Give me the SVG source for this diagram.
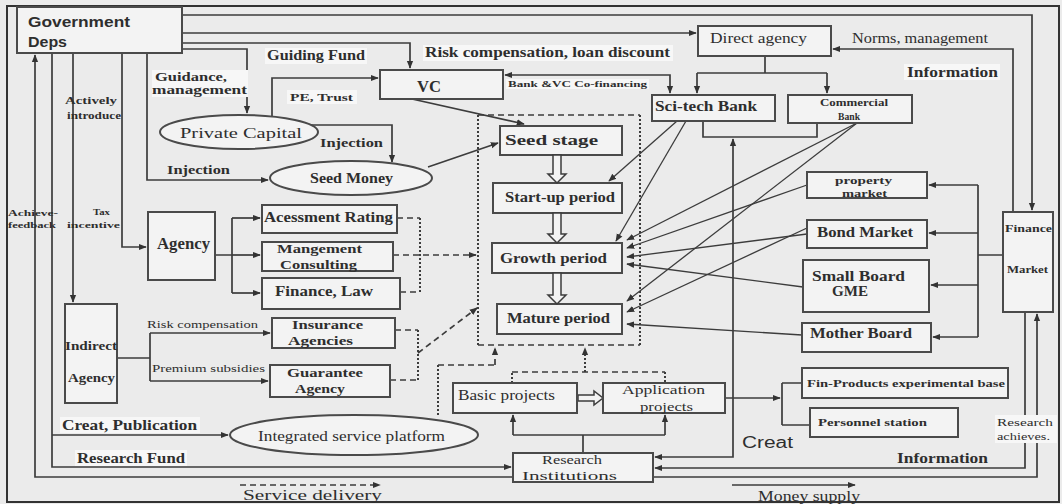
<svg xmlns="http://www.w3.org/2000/svg" width="1062" height="504" viewBox="0 0 1062 504">
<style>
  .bg{fill:#ebebeb}
  .box{fill:#f3f3f3;stroke:#4a4a4a;stroke-width:2}
  .hl{fill:#f7f7f7;stroke:none}
  .ln{fill:none;stroke:#3c3c3c;stroke-width:1.7}
  .thin{fill:none;stroke:#3c3c3c;stroke-width:1.3}
  .dash{fill:none;stroke:#3c3c3c;stroke-width:1.7;stroke-dasharray:6 4}
  .dot{fill:none;stroke:#3c3c3c;stroke-width:2;stroke-dasharray:2 2}
  .hollow{fill:#f3f3f3;stroke:#3c3c3c;stroke-width:1.5}
  text{fill:#2e2e2e}
  .b{font-family:"Liberation Serif",serif;font-weight:bold}
  .r{font-family:"Liberation Serif",serif}
  .s{font-family:"Liberation Sans",Arial,sans-serif}
  .sb{font-family:"Liberation Sans",Arial,sans-serif;font-weight:bold}
</style>
<defs>
  <marker id="ah" viewBox="0 0 10 10" refX="9" refY="5" markerUnits="userSpaceOnUse" markerWidth="8" markerHeight="8" orient="auto-start-reverse">
    <path d="M0,1 L10,5 L0,9 z" fill="#333"/>
  </marker>
</defs>

<!-- page -->
<rect class="bg" x="0" y="0" width="1062" height="504"/>
<rect x="7" y="6" width="1052" height="496" fill="none" stroke="#333" stroke-width="2"/>

<!-- connectors -->
<g id="connectors">
  <!-- from Government Deps -->
  <path class="ln" d="M182,15 H1032 V210" marker-end="url(#ah)"/>
  <path class="ln" d="M182,33 H696" marker-end="url(#ah)"/>
  <path class="ln" d="M182,43 H410 V68" marker-end="url(#ah)"/>
  <path class="ln" d="M182,49 H247 V113" marker-end="url(#ah)"/>
  <path class="ln" d="M147,53 V180 H268" marker-end="url(#ah)"/>
  <path class="ln" d="M122,53 V247 H146" marker-end="url(#ah)"/>
  <path class="ln" d="M73,53 V302" marker-end="url(#ah)"/>
  <path class="ln" d="M52,53 V467 H511" marker-end="url(#ah)"/>
  <path class="ln" d="M52,435 H228" marker-end="url(#ah)"/>
  <path class="ln" d="M513,477 H35 V55" marker-end="url(#ah)"/>

  <!-- private capital, VC, seed money -->
  <path class="ln" d="M272,117 V78 H378" marker-end="url(#ah)"/>
  <path class="ln" d="M311,125 H392 V162" marker-end="url(#ah)"/>
  <path class="ln" d="M412,99 L524,124" marker-end="url(#ah)"/>
  <path class="ln" d="M428,167 L498,143" marker-end="url(#ah)"/>
  <path class="ln" d="M670,93 V75 H505" marker-start="url(#ah)" marker-end="url(#ah)"/>

  <!-- direct agency and banks -->
  <path class="ln" d="M765,56 V73 M697,73 H827"/>
  <path class="ln" d="M697,73 V93" marker-end="url(#ah)"/>
  <path class="ln" d="M827,73 V93" marker-end="url(#ah)"/>
  <path class="ln" d="M703,121 V137 H817 V123"/>
  <path class="ln" d="M1013,212 V49 H833" marker-end="url(#ah)"/>

  <!-- banks and markets to stages -->
  <path class="thin" d="M677,121 L609,181" marker-end="url(#ah)"/>
  <path class="thin" d="M686,121 L616,241" marker-end="url(#ah)"/>
  <path class="thin" d="M857,123 L627,240" marker-end="url(#ah)"/>
  <path class="thin" d="M857,123 L627,301" marker-end="url(#ah)"/>
  <path class="thin" d="M807,185 L627,248" marker-end="url(#ah)"/>
  <path class="thin" d="M807,234 L627,257" marker-end="url(#ah)"/>
  <path class="thin" d="M807,228 L627,312" marker-end="url(#ah)"/>
  <path class="thin" d="M803,287 L627,264" marker-end="url(#ah)"/>
  <path class="thin" d="M802,335 L627,324" marker-end="url(#ah)"/>

  <!-- finance market to markets -->
  <path class="ln" d="M1003,255 H978 M978,185 V337"/>
  <path class="ln" d="M978,185 H929" marker-end="url(#ah)"/>
  <path class="ln" d="M978,233 H929" marker-end="url(#ah)"/>
  <path class="ln" d="M978,285 H931" marker-end="url(#ah)"/>
  <path class="ln" d="M978,337 H933" marker-end="url(#ah)"/>

  <!-- finance market and research institutions -->
  <path class="ln" d="M653,477 H1037 V314" marker-end="url(#ah)"/>
  <path class="ln" d="M1025,312 V468 H655" marker-end="url(#ah)"/>
  <path class="ln" d="M733,139 V457 H655" marker-start="url(#ah)" marker-end="url(#ah)"/>

  <!-- agency branches -->
  <path class="ln" d="M215,255 H232 M232,218 V293"/>
  <path class="ln" d="M232,218 H260" marker-end="url(#ah)"/>
  <path class="ln" d="M232,255 H260" marker-end="url(#ah)"/>
  <path class="ln" d="M232,293 H260" marker-end="url(#ah)"/>
  <path class="dash" d="M397,218 H420 M400,292 H420 M393,255 H475"/>
  <path class="dot" d="M420,218 V292"/>
  <path class="dash" d="M470,255 H476" marker-end="url(#ah)"/>

  <!-- indirect agency branches -->
  <path class="ln" d="M117,358 H150 M150,333 V381"/>
  <path class="ln" d="M150,333 H270" marker-end="url(#ah)"/>
  <path class="ln" d="M150,381 H268" marker-end="url(#ah)"/>
  <path class="dash" d="M395,330 H418 M390,380 H418"/>
  <path class="dot" d="M418,330 V380"/>
  <path class="dash" d="M418,353 L477,308" marker-end="url(#ah)"/>

  <!-- service platform and projects to stage frame -->
  <path class="dot" d="M438,415 V365"/>
  <path class="dash" d="M438,365 H495"/>
  <path class="dash" d="M495,365 V348" marker-end="url(#ah)"/>
  <path class="dot" d="M512,383 V372 M665,372 V383"/>
  <path class="dash" d="M512,372 H665"/>
  <path class="dot" d="M585,372 V348" marker-end="url(#ah)"/>

  <!-- research institutions to projects -->
  <path class="ln" d="M583,453 V435 M513,435 H665"/>
  <path class="ln" d="M513,435 V415" marker-end="url(#ah)"/>
  <path class="ln" d="M665,435 V415" marker-end="url(#ah)"/>
  <path class="hollow" d="M578,395 H594 V391 L603,398 L594,405 V401 H578 Z"/>

  <!-- application projects to bases -->
  <path class="ln" d="M725,398 H780" marker-end="url(#ah)"/>
  <path class="ln" d="M782,383 V425 M782,383 H802 M782,425 H810"/>

  <!-- legend -->
  <path class="dash" d="M240,485 H380" marker-end="url(#ah)"/>
  <path class="ln" d="M732,485 H855" marker-end="url(#ah)"/>
</g>

<!-- development stage frame -->
<g id="stage-frame">
  <path class="dash" d="M478,115 H640 M478,345 H640"/>
  <path class="dot" d="M478,115 V345 M640,115 V345"/>
</g>

<!-- labels on connectors -->
<g id="labels">
  <rect class="hl" x="152" y="70" width="96" height="27"/>
  <text class="b" x="155" y="81" font-size="13" textLength="72" lengthAdjust="spacingAndGlyphs">Guidance,</text>
  <text class="b" x="152" y="94" font-size="13" textLength="95" lengthAdjust="spacingAndGlyphs">management</text>
  <text class="b" x="65" y="104" font-size="10" textLength="52" lengthAdjust="spacingAndGlyphs">Actively</text>
  <text class="b" x="67" y="119" font-size="10" textLength="54" lengthAdjust="spacingAndGlyphs">introduce</text>
  <rect class="hl" x="265" y="48" width="102" height="16"/>
  <text class="b" x="267" y="60" font-size="14" textLength="98" lengthAdjust="spacingAndGlyphs">Guiding Fund</text>
  <rect class="hl" x="423" y="45" width="250" height="16"/>
  <text class="b" x="425" y="57" font-size="15" textLength="245" lengthAdjust="spacingAndGlyphs">Risk compensation, loan discount</text>
  <rect class="hl" x="287" y="90" width="70" height="14"/>
  <text class="b" x="290" y="101" font-size="11" textLength="63" lengthAdjust="spacingAndGlyphs">PE, Trust</text>
  <rect class="hl" x="506" y="79" width="143" height="10"/>
  <text class="b" x="508" y="87" font-size="9" textLength="139" lengthAdjust="spacingAndGlyphs">Bank &amp;VC Co-financing</text>
  <text class="b" x="320" y="147" font-size="13" textLength="63" lengthAdjust="spacingAndGlyphs">Injection</text>
  <text class="b" x="167" y="174" font-size="13" textLength="63" lengthAdjust="spacingAndGlyphs">Injection</text>
  <text class="r" x="852" y="43" font-size="14" textLength="136" lengthAdjust="spacingAndGlyphs">Norms, management</text>
  <rect class="hl" x="904" y="64" width="96" height="16"/>
  <text class="b" x="907" y="77" font-size="14" textLength="91" lengthAdjust="spacingAndGlyphs">Information</text>
  <text class="b" x="93" y="215" font-size="9" textLength="17" lengthAdjust="spacingAndGlyphs" fill="#5a3a2a">Tax</text>
  <text class="b" x="67" y="228" font-size="9" textLength="53" lengthAdjust="spacingAndGlyphs">incentive</text>
  <text class="b" x="8" y="216" font-size="9" textLength="50" lengthAdjust="spacingAndGlyphs">Achieve-</text>
  <text class="b" x="8" y="228" font-size="9" textLength="48" lengthAdjust="spacingAndGlyphs">feedback</text>
  <text class="r" x="147" y="328" font-size="10" textLength="111" lengthAdjust="spacingAndGlyphs">Risk compensation</text>
  <text class="r" x="152" y="372" font-size="10" textLength="113" lengthAdjust="spacingAndGlyphs">Premium subsidies</text>
  <rect class="hl" x="60" y="417" width="140" height="16"/>
  <text class="b" x="62" y="430" font-size="15" textLength="135" lengthAdjust="spacingAndGlyphs">Creat, Publication</text>
  <rect class="hl" x="75" y="450" width="112" height="16"/>
  <text class="b" x="77" y="463" font-size="15" textLength="108" lengthAdjust="spacingAndGlyphs">Research Fund</text>
  <text class="s" x="742" y="448" font-size="16" textLength="51" lengthAdjust="spacingAndGlyphs">Creat</text>
  <text class="b" x="897" y="463" font-size="14" textLength="91" lengthAdjust="spacingAndGlyphs">Information</text>
  <rect class="hl" x="995" y="415" width="62" height="28"/>
  <text class="r" x="997" y="426" font-size="10" textLength="56" lengthAdjust="spacingAndGlyphs">Research</text>
  <text class="r" x="997" y="440" font-size="10" textLength="53" lengthAdjust="spacingAndGlyphs">achieves.</text>
  <text class="r" x="243" y="500" font-size="14" textLength="139" lengthAdjust="spacingAndGlyphs">Service delivery</text>
  <text class="r" x="758" y="501" font-size="14" textLength="102" lengthAdjust="spacingAndGlyphs">Money supply</text>
</g>

<!-- nodes -->
<g id="gov">
  <rect class="box" x="17" y="7" width="165" height="46"/>
  <text class="sb" x="28" y="27" font-size="15" textLength="102" lengthAdjust="spacingAndGlyphs">Government</text>
  <text class="sb" x="28" y="47" font-size="15" textLength="39" lengthAdjust="spacingAndGlyphs">Deps</text>
</g>
<g id="private-capital">
  <ellipse class="box" cx="239" cy="132" rx="79" ry="17"/>
  <text class="r" x="180" y="138" font-size="15" textLength="122" lengthAdjust="spacingAndGlyphs">Private Capital</text>
</g>
<g id="seed-money">
  <ellipse class="box" cx="351" cy="178" rx="81" ry="17"/>
  <text class="b" x="310" y="183" font-size="14" textLength="83" lengthAdjust="spacingAndGlyphs">Seed Money</text>
</g>
<g id="vc">
  <rect class="box" x="380" y="70" width="123" height="29"/>
  <text class="b" x="417" y="92" font-size="17" textLength="24" lengthAdjust="spacingAndGlyphs">VC</text>
</g>
<g id="direct-agency">
  <rect class="box" x="698" y="26" width="133" height="30"/>
  <text class="r" x="710" y="43" font-size="15" textLength="97" lengthAdjust="spacingAndGlyphs">Direct agency</text>
</g>
<g id="sci-tech-bank">
  <rect class="box" x="652" y="95" width="123" height="26"/>
  <text class="r" x="655" y="111" font-size="15" font-weight="bold" textLength="102" lengthAdjust="spacingAndGlyphs">Sci-tech Bank</text>
</g>
<g id="commercial-bank">
  <rect class="box" x="788" y="95" width="124" height="28"/>
  <text class="b" x="820" y="106" font-size="10" textLength="68" lengthAdjust="spacingAndGlyphs">Commercial</text>
  <text class="b" x="838" y="120" font-size="10" textLength="22" lengthAdjust="spacingAndGlyphs">Bank</text>
</g>
<g id="seed-stage">
  <rect class="box" x="500" y="126" width="122" height="29"/>
  <text class="b" x="505" y="145" font-size="15" textLength="93" lengthAdjust="spacingAndGlyphs">Seed stage</text>
</g>
<g id="start-up">
  <rect class="box" x="493" y="183" width="129" height="30"/>
  <text class="b" x="505" y="202" font-size="14" textLength="110" lengthAdjust="spacingAndGlyphs">Start-up period</text>
</g>
<g id="growth">
  <rect class="box" x="492" y="243" width="130" height="30"/>
  <text class="b" x="500" y="263" font-size="15" textLength="107" lengthAdjust="spacingAndGlyphs">Growth period</text>
</g>
<g id="mature">
  <rect class="box" x="497" y="304" width="125" height="30"/>
  <text class="b" x="507" y="323" font-size="14" textLength="103" lengthAdjust="spacingAndGlyphs">Mature period</text>
</g>
<g id="stage-arrows">
  <path class="hollow" d="M553,155 V174 H548 L557,183 L566,174 H561 V155 Z"/>
  <path class="hollow" d="M553,213 V234 H548 L557,243 L566,234 H561 V213 Z"/>
  <path class="hollow" d="M553,273 V295 H548 L557,304 L566,295 H561 V273 Z"/>
</g>
<g id="property-market">
  <rect class="box" x="807" y="172" width="120" height="26"/>
  <text class="b" x="835" y="184" font-size="11" textLength="57" lengthAdjust="spacingAndGlyphs">property</text>
  <text class="b" x="842" y="197" font-size="11" textLength="45" lengthAdjust="spacingAndGlyphs">market</text>
</g>
<g id="bond-market">
  <rect class="box" x="807" y="220" width="120" height="28"/>
  <text class="b" x="817" y="237" font-size="15" textLength="96" lengthAdjust="spacingAndGlyphs">Bond Market</text>
</g>
<g id="small-board">
  <rect class="box" x="803" y="260" width="126" height="52"/>
  <text class="b" x="812" y="281" font-size="15" textLength="93" lengthAdjust="spacingAndGlyphs">Small Board</text>
  <text class="b" x="832" y="296" font-size="14" textLength="36" lengthAdjust="spacingAndGlyphs">GME</text>
</g>
<g id="mother-board">
  <rect class="box" x="802" y="323" width="129" height="29"/>
  <text class="b" x="810" y="338" font-size="15" textLength="102" lengthAdjust="spacingAndGlyphs">Mother Board</text>
</g>
<g id="finance-market">
  <rect class="box" x="1003" y="212" width="50" height="100"/>
  <text class="b" x="1005" y="232" font-size="11" textLength="47" lengthAdjust="spacingAndGlyphs">Finance</text>
  <text class="b" x="1007" y="273" font-size="11" textLength="41" lengthAdjust="spacingAndGlyphs">Market</text>
</g>
<g id="agency">
  <rect class="box" x="148" y="212" width="67" height="68"/>
  <text class="b" x="157" y="249" font-size="16" textLength="53" lengthAdjust="spacingAndGlyphs">Agency</text>
</g>
<g id="assessment-rating">
  <rect class="box" x="262" y="205" width="135" height="28"/>
  <text class="b" x="264" y="222" font-size="14" textLength="129" lengthAdjust="spacingAndGlyphs">Acessment Rating</text>
</g>
<g id="management-consulting">
  <rect class="box" x="262" y="242" width="131" height="29"/>
  <text class="b" x="277" y="253" font-size="13" textLength="85" lengthAdjust="spacingAndGlyphs">Mangement</text>
  <text class="b" x="280" y="269" font-size="13" textLength="77" lengthAdjust="spacingAndGlyphs">Consulting</text>
</g>
<g id="finance-law">
  <rect class="box" x="262" y="278" width="138" height="31"/>
  <text class="b" x="275" y="296" font-size="15" textLength="98" lengthAdjust="spacingAndGlyphs">Finance, Law</text>
</g>
<g id="indirect-agency">
  <rect class="box" x="65" y="304" width="52" height="99"/>
  <text class="b" x="65" y="350" font-size="12" textLength="52" lengthAdjust="spacingAndGlyphs">Indirect</text>
  <text class="b" x="68" y="382" font-size="12" textLength="47" lengthAdjust="spacingAndGlyphs">Agency</text>
</g>
<g id="insurance-agencies">
  <rect class="box" x="272" y="318" width="123" height="30"/>
  <text class="b" x="292" y="329" font-size="13" textLength="71" lengthAdjust="spacingAndGlyphs">Insurance</text>
  <text class="b" x="288" y="345" font-size="13" textLength="65" lengthAdjust="spacingAndGlyphs">Agencies</text>
</g>
<g id="guarantee-agency">
  <rect class="box" x="270" y="365" width="120" height="32"/>
  <text class="b" x="287" y="377" font-size="13" textLength="76" lengthAdjust="spacingAndGlyphs">Guarantee</text>
  <text class="b" x="295" y="393" font-size="13" textLength="50" lengthAdjust="spacingAndGlyphs">Agency</text>
</g>
<g id="service-platform">
  <ellipse class="box" cx="354" cy="435" rx="124" ry="20"/>
  <text class="r" x="258" y="441" font-size="14" textLength="187" lengthAdjust="spacingAndGlyphs">Integrated service platform</text>
</g>
<g id="basic-projects">
  <rect class="box" x="453" y="383" width="124" height="30"/>
  <text class="r" x="458" y="400" font-size="14" textLength="97" lengthAdjust="spacingAndGlyphs">Basic projects</text>
</g>
<g id="application-projects">
  <rect class="box" x="603" y="383" width="122" height="30"/>
  <text class="r" x="622" y="394" font-size="13" textLength="83" lengthAdjust="spacingAndGlyphs">Application</text>
  <text class="r" x="640" y="411" font-size="13" textLength="53" lengthAdjust="spacingAndGlyphs">projects</text>
</g>
<g id="research-institutions">
  <rect class="box" x="513" y="453" width="140" height="29"/>
  <text class="r" x="542" y="464" font-size="13" textLength="60" lengthAdjust="spacingAndGlyphs">Research</text>
  <text class="r" x="522" y="480" font-size="13" textLength="95" lengthAdjust="spacingAndGlyphs">Institutions</text>
</g>
<g id="fin-products-base">
  <rect class="box" x="802" y="368" width="206" height="30" stroke-width="2.5"/>
  <text class="b" x="807" y="387" font-size="11" textLength="198" lengthAdjust="spacingAndGlyphs">Fin-Products experimental base</text>
</g>
<g id="personnel-station">
  <rect class="box" x="810" y="408" width="148" height="29" stroke-width="2.5"/>
  <text class="b" x="818" y="426" font-size="11" textLength="109" lengthAdjust="spacingAndGlyphs">Personnel station</text>
</g>
</svg>
